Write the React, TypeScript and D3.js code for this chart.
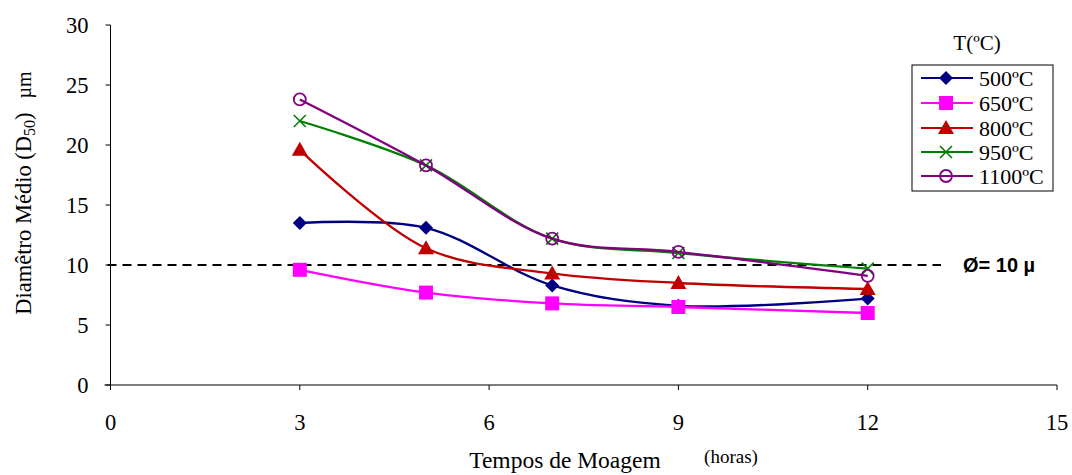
import React from "react";
import * as d3 from "d3";

const hours = [3, 5, 7, 9, 12];
const s500 = [13.5, 13.1, 8.3, 6.6, 7.2];
const s650 = [9.6, 7.7, 6.8, 6.5, 6.0];
const s800 = [19.6, 11.4, 9.3, 8.5, 8.0];
const s950 = [22.0, 18.3, 12.2, 11.0, 9.7];
const s1100 = [23.8, 18.3, 12.2, 11.1, 9.1];
const seriesNames = ["500ºC", "650ºC", "800ºC", "950ºC", "1100ºC"];
const xTicks = [0, 3, 6, 9, 12, 15];
const yTicks = [0, 5, 10, 15, 20, 25, 30];
const threshold = 10;

const colors = ["#000080", "#FF00FF", "#C00000", "#008000", "#800080"];
const markers = ["diamond", "square", "triangle", "x", "circle"];
const allSeries = [s500, s650, s800, s950, s1100];

const serif = "'Liberation Serif', 'Times New Roman', serif";
const sans = "'Liberation Sans', Arial, sans-serif";

function Marker({ type, x, y, color }: { type: string; x: number; y: number; color: string }) {
  if (type === "diamond") {
    const s = 7;
    return <path d={`M${x},${y - s}L${x + s},${y}L${x},${y + s}L${x - s},${y}Z`} fill={color} />;
  }
  if (type === "square") {
    const s = 7;
    return <rect x={x - s} y={y - s} width={2 * s} height={2 * s} fill={color} />;
  }
  if (type === "triangle") {
    const s = 7;
    return <path d={`M${x},${y - s - 1}L${x + s + 1},${y + s - 1}L${x - s - 1},${y + s - 1}Z`} fill={color} />;
  }
  if (type === "x") {
    const s = 6;
    return (
      <path d={`M${x - s},${y - s}L${x + s},${y + s}M${x - s},${y + s}L${x + s},${y - s}`} stroke={color} strokeWidth={1.6} fill="none" />
    );
  }
  return <circle cx={x} cy={y} r={6} fill="none" stroke={color} strokeWidth={1.8} />;
}

export default function App() {
  const W = 1072;
  const H = 475;
  const x = d3.scaleLinear().domain([0, 15]).range([110.5, 1057]);
  const y = d3.scaleLinear().domain([0, 30]).range([385, 25]);

  const line = d3
    .line<[number, number]>()
    .x((d) => x(d[0]))
    .y((d) => y(d[1]))
    .curve(d3.curveCatmullRom.alpha(0.5));

  const legendYs = [78, 103, 128, 152, 176];

  return (
    <svg width={W} height={H} style={{ position: "absolute", left: 0, top: 0, background: "#fff" }}>
      <rect x={0} y={0} width={W} height={H} fill="#fff" />
      {/* axes */}
      <line x1={x(0)} x2={x(0)} y1={y(30)} y2={y(0)} stroke="#000" strokeWidth={1} />
      <line x1={x(0) - 6} x2={x(15)} y1={y(0)} y2={y(0)} stroke="#000" strokeWidth={1} />
      {yTicks.map((t) => (
        <g key={"y" + t}>
          <line x1={x(0) - 5} x2={x(0)} y1={y(t)} y2={y(t)} stroke="#000" />
          <text x={x(0) - 22} y={y(t)} dy="0.35em" textAnchor="end" fontFamily={serif} fontSize={22.5}>
            {t}
          </text>
        </g>
      ))}
      {xTicks.map((t) => (
        <g key={"x" + t}>
          <line x1={x(t)} x2={x(t)} y1={y(0)} y2={y(0) + 5} stroke="#000" />
          <text x={x(t)} y={430} textAnchor="middle" fontFamily={serif} fontSize={22.5}>
            {t}
          </text>
        </g>
      ))}
      {/* threshold line */}
      <line
        x1={x(0) - 3}
        x2={941}
        y1={y(threshold)}
        y2={y(threshold)}
        stroke="#000"
        strokeWidth={2}
        strokeDasharray="9,6"
      />
      <text x={963} y={y(threshold)} dy="0.35em" fontFamily={sans} fontWeight="bold" fontSize={20}>
        Ø= 10 µ
      </text>
      {/* series */}
      {allSeries.map((s, i) => {
        const pts: [number, number][] = hours.map((h, j) => [h, s[j]]);
        return (
          <g key={"s" + i}>
            <path d={line(pts) || ""} fill="none" stroke={colors[i]} strokeWidth={2.3} />
            {pts.map((p, j) => (
              <Marker key={j} type={markers[i]} x={x(p[0])} y={y(p[1])} color={colors[i]} />
            ))}
          </g>
        );
      })}
      {/* legend */}
      <text x={977} y={50} textAnchor="middle" fontFamily={serif} fontSize={21}>
        T(ºC)
      </text>
      <rect x={912} y={65} width={141} height={126} fill="#fff" stroke="#000" strokeWidth={1} />
      {seriesNames.map((n, i) => (
        <g key={"l" + i}>
          <line x1={921} x2={973} y1={legendYs[i]} y2={legendYs[i]} stroke={colors[i]} strokeWidth={2} />
          <Marker type={markers[i]} x={946} y={legendYs[i]} color={colors[i]} />
          <text x={979} y={legendYs[i]} dy="0.35em" fontFamily={serif} fontSize={22}>
            {n}
          </text>
        </g>
      ))}
      {/* axis titles */}
      <text x={565} y={468} textAnchor="middle" fontFamily={serif} fontSize={23.5}>
        Tempos de Moagem
      </text>
      <text x={731} y={463} textAnchor="middle" fontFamily={serif} fontSize={19}>
        (horas)
      </text>
      <text transform="translate(31,193) rotate(-90)" textAnchor="middle" fontFamily={serif} fontSize={22.5}>
        Diamêtro Médio (D
        <tspan fontSize={16} dy={4}>50</tspan>
        <tspan dy={-4}>)</tspan>
        <tspan dx={14} fontSize={20}>µm</tspan>
      </text>
    </svg>
  );
}
